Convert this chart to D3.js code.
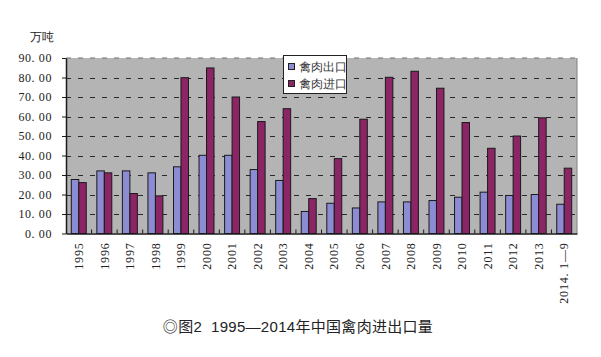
<!DOCTYPE html>
<html><head><meta charset="utf-8">
<script src="https://cdnjs.cloudflare.com/ajax/libs/d3/7.8.5/d3.min.js"></script>
<style>
html,body{margin:0;padding:0;background:#fff;}
svg{display:block;}
</style></head>
<body>
<svg id="c" width="601" height="357"></svg>
<script>
const categories = ["1995","1996","1997","1998","1999","2000","2001","2002","2003","2004","2005","2006","2007","2008","2009","2010","2011","2012","2013","2014. 1—9"];
const exportValues = [27.7,32.1,32.1,31.1,34.2,40.1,40.1,32.8,27.2,11.3,15.5,13.1,16.2,16.2,16.9,18.6,21.2,19.5,20.0,15.0];
const importValues = [26.1,31.1,20.5,19.3,79.9,84.9,70.0,57.4,64.0,17.9,38.4,58.6,80.1,83.2,74.5,56.9,43.7,50.0,59.3,33.5];
const seriesNames = ["禽肉出口","禽肉进口"];
const yTicks = [0,10,20,30,40,50,60,70,80,90];
const yTickLabels = ["0. 00","10. 00","20. 00","30. 00","40. 00","50. 00","60. 00","70. 00","80. 00","90. 00"];
const unitLabel = "万吨";
const caption = "◎图2  1995—2014年中国禽肉进出口量";

(function(){
const colors = ["#8c8cd4","#8b2566"];
const pL = 66, pR = 577, pT = 58, pB = 233.5;
const serif = "'Liberation Serif','DejaVu Serif',serif";

const svg = d3.select("#c");
const x = d3.scaleBand().domain(categories).range([pL,pR]).padding(0);
const inner = d3.scaleBand().domain([0,1]).range([5.3, x.bandwidth()-5.3]).padding(0);
const y = d3.scaleLinear().domain([0,90]).range([pB,pT]);

svg.append("rect").attr("x",pL).attr("y",pT).attr("width",pR-pL).attr("height",pB-pT)
  .attr("fill","#b4b4b4");

svg.append("g").selectAll("line").data(yTicks.filter(d=>d>0 && d<90)).join("line")
  .attr("x1",pL).attr("x2",pR).attr("y1",d=>Math.round(y(d))+0.5).attr("y2",d=>Math.round(y(d))+0.5)
  .attr("stroke","#2a2a2a").attr("stroke-width",1.2).attr("stroke-dasharray","5,7");
svg.append("line").attr("x1",pL).attr("x2",pR).attr("y1",pT).attr("y2",pT)
  .attr("stroke","#707070").attr("stroke-width",1.2).attr("stroke-dasharray","5,7");
svg.append("line").attr("x1",pR).attr("x2",pR).attr("y1",pT).attr("y2",pB)
  .attr("stroke","#808080").attr("stroke-width",1);

const series = [exportValues, importValues];
series.forEach((vals,si)=>{
  svg.append("g").selectAll("rect").data(vals).join("rect")
    .attr("x",(d,i)=>x(categories[i])+inner(si))
    .attr("y",d=>y(d))
    .attr("width",inner.bandwidth())
    .attr("height",d=>pB-y(d))
    .attr("fill",colors[si]).attr("stroke","#1a1a1a").attr("stroke-width",1);
});

const yAxis = d3.axisLeft(y).tickValues(yTicks).tickSize(0).tickPadding(14)
  .tickFormat((d,i)=>yTickLabels[i]);
const gy = svg.append("g").attr("transform",`translate(${pL},0)`).call(yAxis);
gy.select(".domain").attr("stroke","#1a1a1a").attr("stroke-width",1.5);
gy.selectAll("text").attr("font-family",serif).attr("font-size",12).attr("letter-spacing","0.6px").attr("fill","#222");
gy.selectAll(".tick").append("line").attr("x1",-4).attr("x2",0).attr("stroke","#1a1a1a");

const gx = svg.append("g").attr("transform",`translate(0,${pB})`)
  .call(d3.axisBottom(x).tickSize(0).tickPadding(0));
gx.select(".domain").attr("stroke","#1a1a1a").attr("stroke-width",1.5);
gx.selectAll(".tick text")
  .attr("font-family",serif).attr("font-size",12).attr("letter-spacing","0.8px").attr("fill","#222")
  .attr("transform","rotate(-90)").attr("text-anchor","end")
  .attr("x",-9).attr("y",0).attr("dy","0.35em");
svg.append("g").selectAll("line").data(categories.slice(1)).join("line")
  .attr("x1",d=>x(d)).attr("x2",d=>x(d)).attr("y1",pB).attr("y2",pB-4)
  .attr("stroke","#1a1a1a");

svg.append("text").attr("x",42).attr("y",41).attr("text-anchor","middle")
  .attr("font-family",serif).attr("font-size",12).attr("fill","#222").text(unitLabel);

const lg = svg.append("g");
lg.append("rect").attr("x",283.5).attr("y",55.5).attr("width",63).attr("height",38)
  .attr("fill","#fff").attr("stroke","#222");
seriesNames.forEach((n,i)=>{
  lg.append("rect").attr("x",288.5).attr("y",63.5+i*17).attr("width",6).attr("height",6)
    .attr("fill",colors[i]).attr("stroke","#222");
  lg.append("text").attr("x",299).attr("y",67+i*17).attr("dy","0.35em")
    .attr("font-family",serif).attr("font-size",12).attr("fill","#333").text(n);
});

svg.append("text").attr("x",298).attr("y",327).attr("text-anchor","middle").attr("dy","0.35em")
  .style("white-space","pre").attr("letter-spacing","0.3px")
  .attr("font-family","'Liberation Sans','Noto Sans CJK SC',sans-serif").attr("font-size",15).attr("fill","#222")
  .text(caption);
})();
</script>
</body></html>
